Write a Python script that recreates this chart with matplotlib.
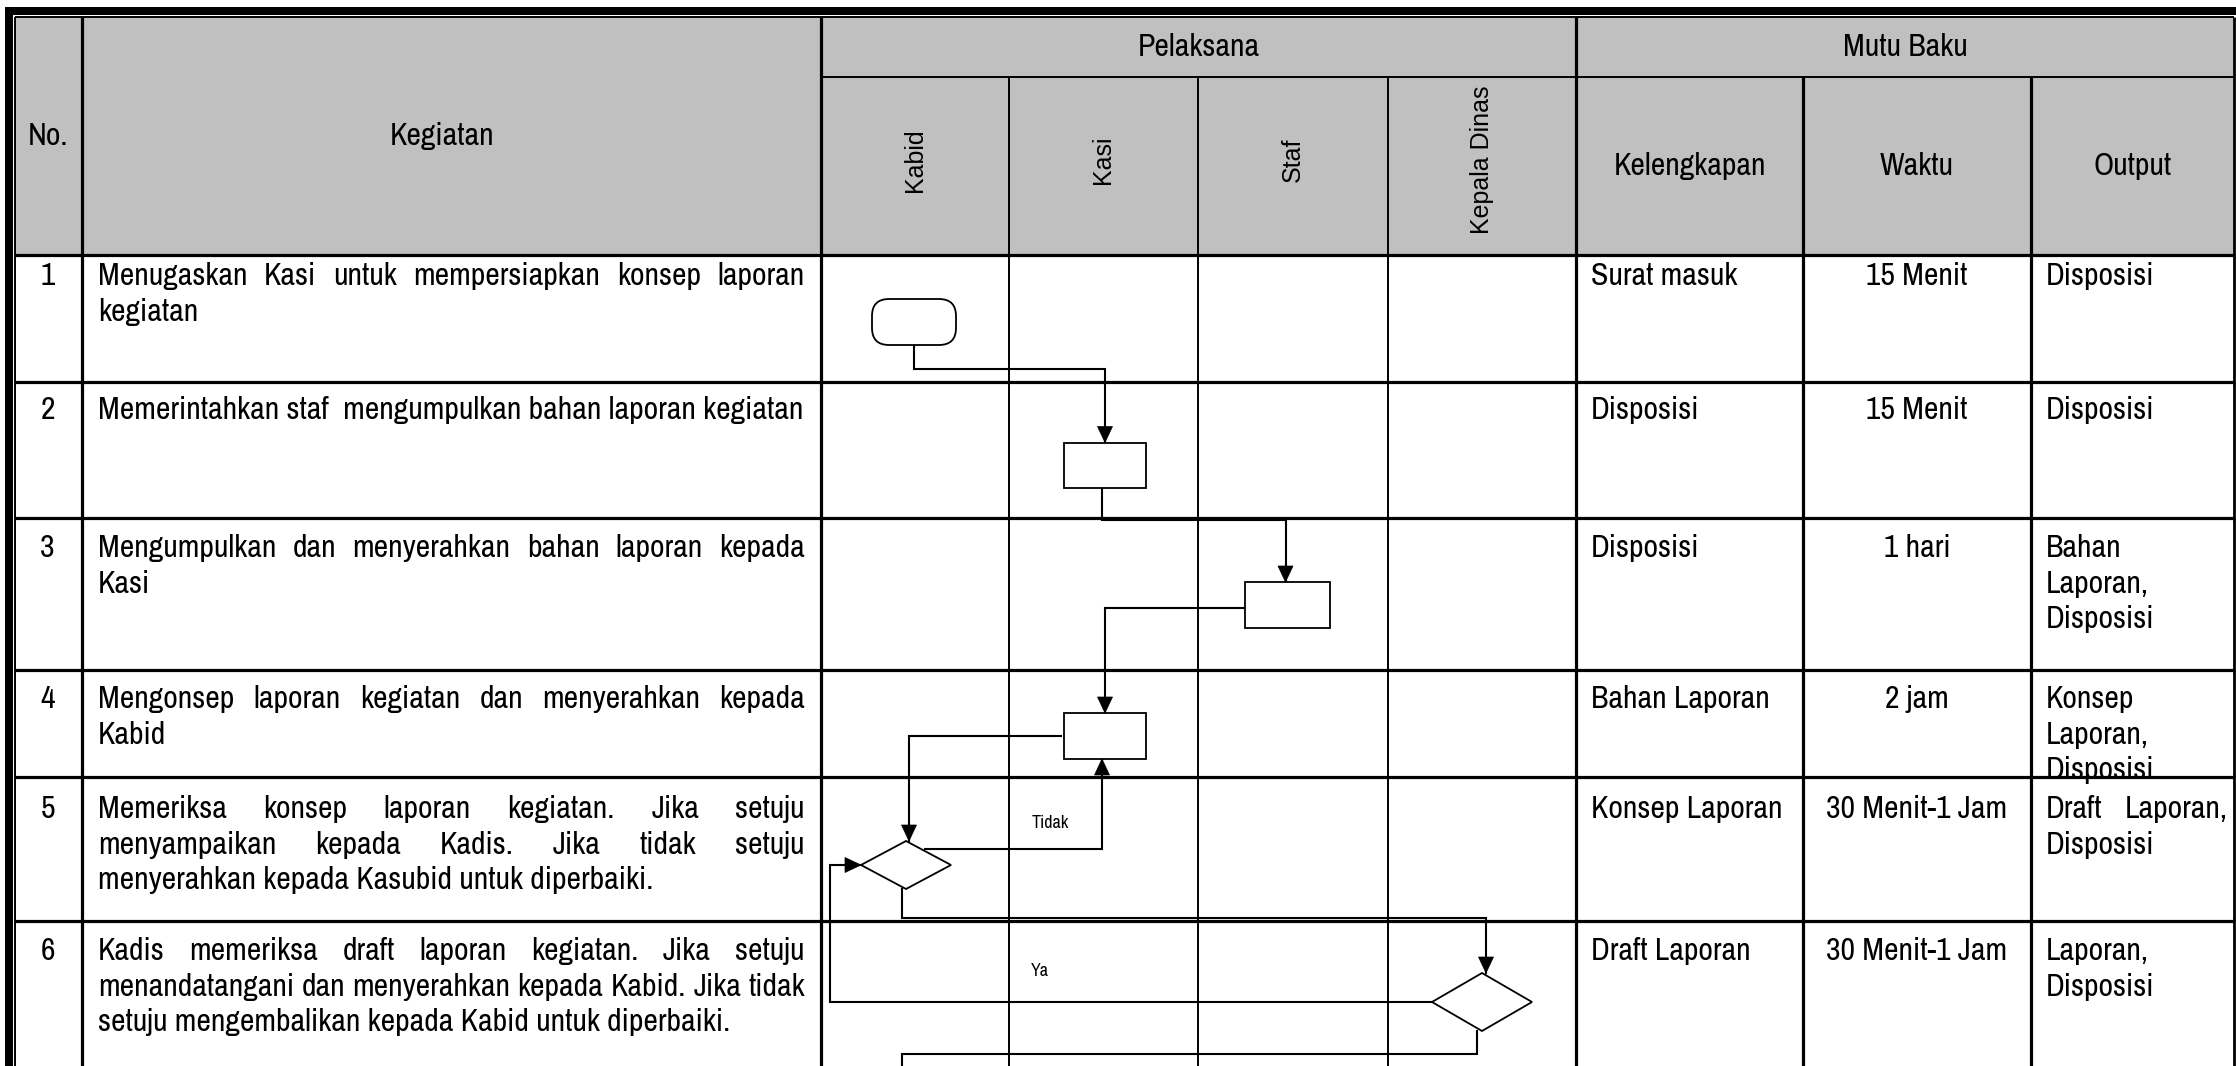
import matplotlib
matplotlib.use("Agg")
import matplotlib.pyplot as plt
from matplotlib import font_manager as fm
from matplotlib.patches import Rectangle, Polygon, FancyBboxPatch

# ---------------- data ----------------
header_no = "No."
header_kegiatan = "Kegiatan"
header_pelaksana = "Pelaksana"
header_mutu = "Mutu Baku"
lanes = ["Kabid", "Kasi", "Staf", "Kepala Dinas"]
mutu_cols = ["Kelengkapan", "Waktu", "Output"]

nomor = ["1", "2", "3", "4", "5", "6"]
kegiatan = [
    ["Menugaskan Kasi untuk mempersiapkan konsep laporan", "kegiatan"],
    ["Memerintahkan staf  mengumpulkan bahan laporan kegiatan"],
    ["Mengumpulkan dan menyerahkan bahan laporan kepada", "Kasi"],
    ["Mengonsep laporan kegiatan dan menyerahkan kepada", "Kabid"],
    ["Memeriksa konsep laporan kegiatan. Jika setuju",
     "menyampaikan kepada Kadis. Jika tidak setuju",
     "menyerahkan kepada Kasubid untuk diperbaiki."],
    ["Kadis memeriksa draft laporan kegiatan. Jika setuju",
     "menandatangani dan menyerahkan kepada Kabid. Jika tidak",
     "setuju mengembalikan kepada Kabid untuk diperbaiki."],
]
kelengkapan = ["Surat masuk", "Disposisi", "Disposisi", "Bahan Laporan",
               "Konsep Laporan", "Draft Laporan"]
waktu = ["15 Menit", "15 Menit", "1 hari", "2 jam", "30 Menit-1 Jam", "30 Menit-1 Jam"]
output = [["Disposisi"], ["Disposisi"], ["Bahan", "Laporan,", "Disposisi"],
          ["Konsep", "Laporan,", "Disposisi"], ["Draft  Laporan,", "Disposisi"],
          ["Laporan,", "Disposisi"]]

step_lane = [0, 1, 2, 1, 0, 3]
step_shape = ["terminator", "process", "process", "process", "decision", "decision"]
label_tidak = "Tidak"
label_ya = "Ya"

# ---------------- layout ----------------
W, H = 2236, 1066
col_x = [15, 82, 821, 1009, 1198, 1388, 1576, 1803, 2031, 2234]
head_top, head_mid, head_bot = 17, 77, 255
row_y = [255, 382, 518, 670, 777, 921]
base_off = [30, 37, 39, 38, 41, 39]
GRAY = "#c0c0c0"
THICK, THIN = 2.3, 1.4
CONN, SHAPE = 1.5, 1.3

# shape offsets / sizes (styling)
shape_dx = [-1, 1.5, -5.5, 1.5, -9, 0]
shape_dy = [67, 83, 87, 66, 88, 81]
shape_w = [84, 82, 85, 82, 90, 100]
shape_h = [46, 45, 46, 46, 48, 58]


def pick(cands):
    for c in cands:
        try:
            fm.findfont(fm.FontProperties(family=c), fallback_to_default=False)
            return c
        except Exception:
            pass
    return "DejaVu Sans"


NARROW = pick(["Liberation Sans Narrow", "Arial Narrow", "Nimbus Sans Narrow",
               "Helvetica Narrow", "Archivo Narrow", "Roboto Condensed",
               "Liberation Sans"])
REG = pick(["Liberation Sans", "Arial", "DejaVu Sans"])
FS = 22.9
FS_ROT = 18
FS_SMALL = 13

fig = plt.figure(figsize=(W / 100, H / 100), dpi=100)
ax = fig.add_axes([0, 0, 1, 1])
ax.set_xlim(0, W)
ax.set_ylim(H, 0)
ax.axis("off")
renderer = fig.canvas.get_renderer()

# ---------------- frame & table ----------------
ax.add_patch(Rectangle((5, 7), W - 5, 8, color="black", lw=0, zorder=5))
ax.add_patch(Rectangle((5, 7), 8, H, color="black", lw=0, zorder=5))
ax.add_patch(Rectangle((col_x[0], head_top), col_x[-1] - col_x[0], head_bot - head_top,
                       facecolor=GRAY, edgecolor="none", zorder=0))


def hline(y, x0, x1, lw):
    ax.plot([x0, x1], [y, y], color="black", lw=lw, solid_capstyle="butt", zorder=3)


def vline(x, y0, y1, lw):
    ax.plot([x, x], [y0, y1], color="black", lw=lw, solid_capstyle="butt", zorder=3)


hline(head_top, col_x[0], col_x[-1], 1.4)
hline(head_mid, col_x[2], col_x[-1], 1.4)
for y in row_y:
    hline(y, col_x[0], col_x[-1], THICK)
vline(col_x[0], head_top, H, 1.4)
vline(col_x[-1], head_top, H, 2.0)
for i in [1, 2, 6]:
    vline(col_x[i], head_top, H, THICK)
for i in [3, 4, 5]:
    vline(col_x[i], head_mid, H, THIN)
for i in [7, 8]:
    vline(col_x[i], head_mid, H, THICK)

# ---------------- header text ----------------
def txt(x, y, s, **kw):
    kw.setdefault("family", NARROW)
    kw.setdefault("fontsize", FS)
    kw.setdefault("color", "black")
    return ax.text(x, y, s, zorder=6, **kw)


hc = (head_top + head_bot) / 2
txt((col_x[0] + col_x[1]) / 2, hc, header_no, ha="center", va="center")
txt((col_x[1] + col_x[2]) / 2 - 9, hc, header_kegiatan, ha="center", va="center")
txt((col_x[2] + col_x[6]) / 2, (head_top + head_mid) / 2, header_pelaksana, ha="center", va="center")
txt((col_x[6] + col_x[9]) / 2, (head_top + head_mid) / 2, header_mutu, ha="center", va="center")
sc = (head_mid + head_bot) / 2
lane_cx = [(col_x[2 + i] + col_x[3 + i]) / 2 for i in range(4)]
for i, name in enumerate(lanes):
    txt(lane_cx[i], sc - 6, name, ha="center", va="center", rotation=90,
        family=REG, fontsize=FS_ROT)
for i, name in enumerate(mutu_cols):
    txt((col_x[6 + i] + col_x[7 + i]) / 2, sc, name, ha="center", va="center")

# ---------------- body text ----------------
LINE = 35.6


def justified(x0, x1, y, s, justify):
    words = s.split()
    if not justify or len(words) < 2:
        txt(x0, y, s, ha="left", va="baseline")
        return
    arts = [txt(0, y, w_, ha="left", va="baseline") for w_ in words]
    widths = [a.get_window_extent(renderer).width for a in arts]
    gap = (x1 - x0 - sum(widths)) / (len(words) - 1)
    x = x0
    for a, w_ in zip(arts, widths):
        a.set_x(x)
        x += w_ + gap


for r in range(6):
    yb = row_y[r] + base_off[r]
    txt((col_x[0] + col_x[1]) / 2 - 1, yb, nomor[r], ha="center", va="baseline")
    lines = kegiatan[r]
    for k, s in enumerate(lines):
        justified(col_x[1] + 16, col_x[2] - 16, yb + k * LINE, s, k < len(lines) - 1)
    txt(col_x[6] + 15, yb, kelengkapan[r], ha="left", va="baseline")
    txt((col_x[7] + col_x[8]) / 2, yb, waktu[r], ha="center", va="baseline")
    outs = output[r]
    for k, s in enumerate(outs):
        justified(col_x[8] + 15, col_x[9] - 6, yb + k * LINE, s, k < len(outs) - 1)

# ---------------- flowchart shapes ----------------
cx = [lane_cx[step_lane[i]] + shape_dx[i] for i in range(6)]
cy = [row_y[i] + shape_dy[i] for i in range(6)]
anchors = []
for i in range(6):
    w_, h_ = shape_w[i], shape_h[i]
    x, y = cx[i], cy[i]
    if step_shape[i] == "terminator":
        ax.add_patch(FancyBboxPatch((x - w_ / 2, y - h_ / 2), w_, h_,
                                    boxstyle="round,pad=0,rounding_size=17",
                                    facecolor="white", edgecolor="black", lw=SHAPE, zorder=4))
    elif step_shape[i] == "process":
        ax.add_patch(Rectangle((x - w_ / 2, y - h_ / 2), w_, h_,
                               facecolor="white", edgecolor="black", lw=SHAPE, zorder=4))
    else:
        ax.add_patch(Polygon([(x - w_ / 2, y), (x, y - h_ / 2), (x + w_ / 2, y), (x, y + h_ / 2)],
                             closed=True, facecolor="white", edgecolor="black", lw=SHAPE, zorder=4))
    anchors.append(dict(top=(x, y - h_ / 2), bottom=(x, y + h_ / 2),
                        left=(x - w_ / 2, y), right=(x + w_ / 2, y)))


def arrowhead(p_end, direction, L=16, Wd=15):
    x, y = p_end
    dx, dy = direction
    px, py = -dy, dx
    pts = [(x, y), (x - dx * L + px * Wd / 2, y - dy * L + py * Wd / 2),
           (x - dx * L - px * Wd / 2, y - dy * L - py * Wd / 2)]
    ax.add_patch(Polygon(pts, closed=True, facecolor="black", edgecolor="black", lw=0.5, zorder=5))


def connector(pts, arrow=True):
    xs = [p[0] for p in pts]
    ys = [p[1] for p in pts]
    ax.plot(xs, ys, color="black", lw=CONN, solid_joinstyle="miter", zorder=3.5)
    if arrow:
        (x0, y0), (x1, y1) = pts[-2], pts[-1]
        d = ((x1 > x0) - (x1 < x0), (y1 > y0) - (y1 < y0))
        arrowhead(pts[-1], d)


a = anchors
# 1 -> 2
y_mid = a[0]["bottom"][1] + 24
connector([a[0]["bottom"], (a[0]["bottom"][0], y_mid), (a[1]["top"][0], y_mid), a[1]["top"]])
# 2 -> 3
y_mid = a[1]["bottom"][1] + 32
connector([(a[1]["bottom"][0] - 3, a[1]["bottom"][1]), (a[1]["bottom"][0] - 3, y_mid),
           (a[2]["top"][0] - 2, y_mid), (a[2]["top"][0] - 2, a[2]["top"][1])])
# 3 -> 4
ly = a[2]["left"][1] + 3
connector([(a[2]["left"][0], ly), (a[3]["top"][0], ly), a[3]["top"]])
# 4 -> 5
ly = a[3]["left"][1]
connector([(a[3]["left"][0] - 3, ly), (a[4]["top"][0] + 3, ly), (a[4]["top"][0] + 3, a[4]["top"][1])])
# 5 -> 4 (Tidak)
sy = cy[4] - 16
sx = cx[4] + shape_w[4] / 2 * (1 - 16 / (shape_h[4] / 2))
connector([(sx + 4, sy), (a[3]["bottom"][0] - 3, sy), (a[3]["bottom"][0] - 3, a[3]["bottom"][1])])
txt(cx[4] + 126, sy - 26, label_tidak, ha="left", va="center", fontsize=FS_SMALL)
# 5 -> 6 (Ya)
y_mid = a[4]["bottom"][1] + 29
connector([(a[4]["bottom"][0] - 4, a[4]["bottom"][1]), (a[4]["bottom"][0] - 4, y_mid),
           (a[5]["top"][0] + 4, y_mid), (a[5]["top"][0] + 4, a[5]["top"][1])])
txt(cx[4] + 125, y_mid + 53, label_ya, ha="left", va="center", fontsize=FS_SMALL)
# 6 -> 5 (back)
lx = col_x[2] + 9
connector([a[5]["left"], (lx, a[5]["left"][1]), (lx, a[4]["left"][1]), a[4]["left"]])
# 6 -> next
y_mid = a[5]["bottom"][1] + 23
connector([(a[5]["bottom"][0] - 5, a[5]["bottom"][1]), (a[5]["bottom"][0] - 5, y_mid),
           (a[4]["bottom"][0] - 4, y_mid), (a[4]["bottom"][0] - 4, H + 20)], arrow=False)

fig.savefig("out.png", dpi=100)
